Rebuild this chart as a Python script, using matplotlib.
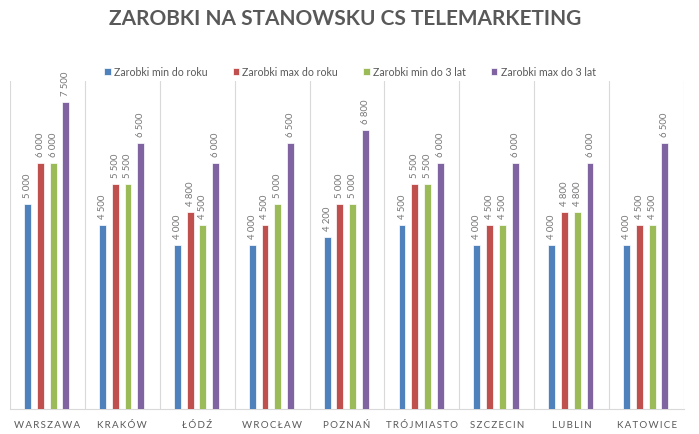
import matplotlib
matplotlib.use("Agg")
import numpy as np
import matplotlib.pyplot as plt

plt.rcParams["font.family"] = ["Lato", "DejaVu Sans"]

# dane
miasta = ["WARSZAWA", "KRAKÓW", "ŁÓDŹ", "WROCŁAW", "POZNAŃ",
          "TRÓJMIASTO", "SZCZECIN", "LUBLIN", "KATOWICE"]
min_do_roku = [5000, 4500, 4000, 4000, 4200, 4500, 4000, 4000, 4000]
max_do_roku = [6000, 5500, 4800, 4500, 5000, 5500, 4500, 4800, 4500]
min_do_3_lat = [6000, 5500, 4500, 5000, 5000, 5500, 4500, 4800, 4500]
max_do_3_lat = [7500, 6500, 6000, 6500, 6800, 6000, 6000, 6000, 6500]
serie = ["Zarobki min do roku", "Zarobki max do roku",
         "Zarobki min do 3 lat", "Zarobki max do 3 lat"]
kolory = ["#4F81BD", "#C0504D", "#9BBB59", "#8064A2"]

W, H = 699, 435
fig = plt.figure(figsize=(W / 100, H / 100), dpi=100)
ax = fig.add_axes([10 / W, (H - 410) / H, 674 / W, 328 / H])

x = np.arange(len(miasta)) + 0.49
szer = 0.092
przes = [-0.255, -0.085, 0.085, 0.255]
grey = "#595959"

for wart, nazwa, kol, dx in zip([min_do_roku, max_do_roku, min_do_3_lat, max_do_3_lat],
                                serie, kolory, przes):
    bars = ax.bar(x + dx, wart, width=szer, color=kol, edgecolor="white",
                  linewidth=0.5, label=nazwa, zorder=3)
    for b, v in zip(bars, wart):
        ax.annotate(f"{v:,}".replace(",", " "),
                    (b.get_x() + b.get_width() / 2, v),
                    xytext=(0, 5), textcoords="offset points",
                    rotation=90, ha="center", va="bottom",
                    fontsize=6.8, color="#767676")

ax.set_xlim(0, len(miasta))
ax.set_ylim(0, 8000)
ax.set_yticks([])
ax.set_xticks(np.arange(len(miasta)) + 0.5)
# rozstrzelone litery jak w Excelu
ax.set_xticklabels(["\u2009".join(m) for m in miasta], fontsize=7, color=grey)
ax.set_xticks(np.arange(len(miasta) + 1), minor=True)
ax.tick_params(axis="x", which="both", length=0, pad=8)
ax.grid(axis="x", which="minor", color="#D9D9D9", linewidth=0.8, zorder=0)
for s in ["top", "left", "right"]:
    ax.spines[s].set_visible(False)
ax.spines["bottom"].set_color("#D9D9D9")
ax.spines["bottom"].set_linewidth(0.8)

fig.text(345.5 / W, 1 - 19 / H, "ZAROBKI NA STANOWSKU CS TELEMARKETING",
         ha="center", va="center", fontsize=15, fontweight="bold", color=grey)

fig.legend(loc="center", bbox_to_anchor=(350 / W, 1 - 73 / H), ncol=4,
           frameon=False, fontsize=7.6, handlelength=0.6, handleheight=0.6,
           handletextpad=0.3, columnspacing=2.4, labelcolor=grey)

fig.savefig("out.png", dpi=100)
